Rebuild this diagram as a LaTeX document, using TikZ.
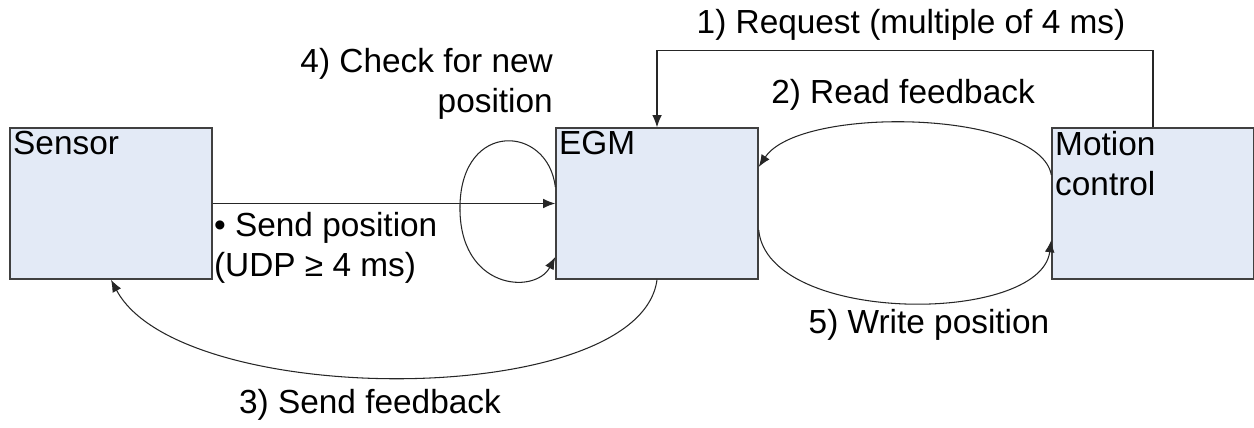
\documentclass[tikz,border=0pt]{standalone}
\usepackage{fontspec}
\setmainfont{Liberation Sans}
\usetikzlibrary{arrows.meta,positioning}
\definecolor{boxfill}{RGB}{227,234,246}
\begin{document}
\begin{tikzpicture}[x=0.02cm,y=-0.02cm,>={Latex[length=7pt,width=5.5pt]},every node/.style={font=\fontsize{19}{22.7}\selectfont},block/.style={draw=black!75,fill=boxfill,minimum width=4.04cm,minimum height=3.02cm,inner sep=0pt,line width=0.8pt},tag/.style={anchor=north west,inner sep=2pt,align=left},flow/.style={->,black!85,line width=0.6pt}]
\useasboundingbox (0,0) rectangle (1254,428);
\node[block,label={[tag]north west:Sensor}] (sensor) at (111,203.5) {};
\node[block,label={[tag]north west:EGM}] (egm) at (657,203.5) {};
\node[block,label={[tag]north west:Motion\\control}] (motion) at (1153,203.5) {};
\draw[flow] (motion.north) -- ++(0,-77) -| (egm.north);
\draw[flow] ([yshift=0.57cm]motion.west) .. controls (1040,110) and (800,105) .. ([yshift=0.73cm]egm.east);
\draw[flow] ([yshift=-0.53cm]egm.east) .. controls (768,325) and (1040,325) .. ([yshift=-0.73cm]motion.west);
\draw[flow] (sensor.east) -- (egm.west);
\draw[flow] (egm.south) .. controls (640,410) and (180,410) .. (sensor.south);
\draw[flow] ([yshift=0.33cm]egm.west) .. controls (548,125) and (462,120) .. (460,205) .. controls (458,290) and (535,295) .. ([yshift=-1.07cm]egm.west);
\node (request) at (911,25) {1) Request (multiple of 4 ms)};
\node (read) at (903,95) {2) Read feedback};
\node (write) at (929,325) {5) Write position};
\node (sendfb) at (370,405) {3) Send feedback};
\node[anchor=east,align=right] (check) at (559,84) {4) Check for new\\position};
\node[anchor=north west,align=left,inner sep=1pt] (sendpos) at (212,210) {\textbullet{} Send position\\(UDP ≥ 4 ms)};
\end{tikzpicture}
\end{document}
